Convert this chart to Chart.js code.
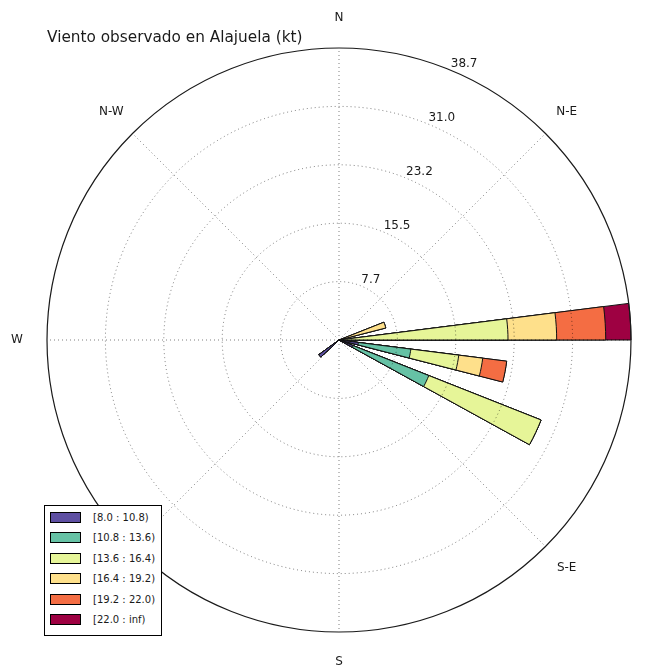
<!DOCTYPE html>
<html>
<head>
<meta charset="utf-8">
<script src="https://cdn.jsdelivr.net/npm/chart.js@4.4.1/dist/chart.umd.min.js"></script>
<style>
  html, body { margin: 0; padding: 0; background: #fff; }
  #wrap { position: relative; width: 657px; height: 667px; }
  #legend {
    position: absolute; left: 44px; top: 505px; width: 116px; height: 129px;
    border: 1px solid #000; background: #fff;
    font: 10px 'DejaVu Sans', sans-serif; color: #1a1a1a;
  }
  .sw { position: absolute; left: 5px; width: 29px; height: 9px; border: 1px solid #000; }
  .lb { position: absolute; left: 48px; height: 11px; line-height: 11px; white-space: nowrap; }
</style>
</head>
<body>
<div id="wrap">
  <canvas id="rose" width="657" height="667"></canvas>
  <div id="legend"></div>
</div>
<script>
// Wind rose: 25 direction sectors of 14.4 degrees, bars stacked by speed class (kt)
const sectorCount = 25;
const directions = [72.0, 86.4, 100.8, 115.2, 230.4];   // sector centres, degrees clockwise from north
const speedBins = ['[8.0 : 10.8)', '[10.8 : 13.6)', '[13.6 : 16.4)', '[16.4 : 19.2)', '[19.2 : 22.0)', '[22.0 : inf)'];
const binColors = ['#5e4fa2', '#66c2a5', '#e6f598', '#fee08b', '#f46d43', '#9e0142'];

// frequency of each speed class, one value per direction above
const speed8to10  = [0.0, 0.2,   2.6,  2.0, 3.3];
const speed10to13 = [0.0, 0.5,   7.0, 10.8, 0.0];
const speed13to16 = [0.0, 21.7,  6.4, 16.0, 0.0];
const speed16to19 = [6.4, 6.45,  3.2,  0.0, 0.0];
const speed19to22 = [0.0, 6.5,   3.2,  0.0, 0.0];
const speed22up   = [0.0, 3.35,  0.0,  0.0, 0.0];

const ringValues = [7.74, 15.48, 23.22, 30.96, 38.7];
const ringLabels = ['7.7', '15.5', '23.2', '31.0', '38.7'];
const compassLabels = ['N', 'N-E', 'E', 'S-E', 'S', 'S-W', 'W', 'N-W'];

const speedSeries = [speed8to10, speed10to13, speed13to16, speed16to19, speed19to22, speed22up];
const sectorWidth = 360 / sectorCount;

// Each sector becomes a bar slot followed by an empty slot of the same width,
// so bars open over half of their sector. Values are cumulative so that the
// wider (outer) classes sit underneath the inner ones.
const slotLabels = [];
const cumulative = speedBins.map(() => []);
for (let j = 0; j < sectorCount; j++) {
  const dir = j * sectorWidth;
  const k = directions.findIndex(d => Math.abs(d - dir) < 0.01);
  let run = 0;
  speedBins.forEach((_, b) => {
    if (k >= 0) run += speedSeries[b][k];
    cumulative[b].push(+run.toFixed(3));
    cumulative[b].push(0);
  });
  slotLabels.push(dir.toFixed(1) + '°', '');
}

const datasets = speedBins.map((name, b) => ({
  label: name,
  data: cumulative[b],
  backgroundColor: binColors[b],
  borderColor: '#111',
  borderWidth: c => (c.raw > 0 ? 1 : 0),
  order: b
}));

const outerIndex = ringValues.length;

const roseGuides = {
  id: 'roseGuides',
  afterDatasetsDraw(chart) {
    const s = chart.scales.r, ctx = chart.ctx;
    const R = s.getDistanceFromCenterForValue(s.max);
    ctx.save();
    ctx.strokeStyle = 'rgba(0,0,0,0.5)';
    ctx.lineWidth = 1;
    ctx.setLineDash([1, 3]);
    for (let k = 0; k < 8; k++) {
      const a = k * Math.PI / 4;
      ctx.beginPath();
      ctx.moveTo(s.xCenter, s.yCenter);
      ctx.lineTo(s.xCenter + R * Math.sin(a), s.yCenter - R * Math.cos(a));
      ctx.stroke();
    }
    ctx.restore();
  },
  afterDraw(chart) {
    const s = chart.scales.r, ctx = chart.ctx;
    const R = s.getDistanceFromCenterForValue(s.max);
    ctx.save();
    ctx.fillStyle = '#1a1a1a';
    ctx.font = '12px "DejaVu Sans", sans-serif';
    // compass names round the rim
    ctx.textAlign = 'center';
    ctx.textBaseline = 'middle';
    compassLabels.forEach((t, k) => {
      const a = k * Math.PI / 4;
      ctx.fillText(t, s.xCenter + (R + 30) * Math.sin(a), s.yCenter - (R + 30) * Math.cos(a));
    });
    // ring values along the 22.5 degree radial
    ctx.textAlign = 'left';
    ctx.textBaseline = 'bottom';
    const a = 22.5 * Math.PI / 180;
    ringValues.forEach((v, i) => {
      const r = s.getDistanceFromCenterForValue(v);
      ctx.fillText(ringLabels[i], s.xCenter + r * Math.sin(a), s.yCenter - r * Math.cos(a));
    });
    ctx.restore();
  }
};

new Chart(document.getElementById('rose'), {
  type: 'polarArea',
  data: { labels: slotLabels, datasets },
  plugins: [roseGuides],
  options: {
    responsive: false,
    animation: false,
    layout: { padding: { left: 47, right: 26, top: 0, bottom: 35 } },
    plugins: {
      legend: { display: false },
      tooltip: { enabled: false },
      title: {
        display: true,
        text: 'Viento observado en Alajuela (kt)',
        align: 'start',
        color: '#1a1a1a',
        font: { family: 'DejaVu Sans', size: 15.3, weight: 'normal', lineHeight: 1.2 },
        padding: { top: 28.5, bottom: 1.14 }
      }
    },
    scales: {
      r: {
        min: 0,
        max: 38.7,
        startAngle: -sectorWidth / 4,
        z: 1,
        afterBuildTicks: scale => { scale.ticks = [0, ...ringValues].map(v => ({ value: v })); },
        ticks: { display: false },
        pointLabels: { display: false },
        angleLines: { display: false },
        grid: {
          circular: true,
          z: 1,
          lineWidth: c => (c.index === outerIndex ? 1.2 : 1),
          color: c => (c.index === outerIndex ? '#1a1a1a' : 'rgba(0,0,0,0.5)')
        },
        border: { z: 1, dash: c => (c.index === outerIndex ? [] : [1, 3]) }
      }
    }
  }
});

// legend box, lower left
const legend = document.getElementById('legend');
speedBins.forEach((name, b) => {
  const top = 5.7 + b * 20.5;
  const sw = document.createElement('div');
  sw.className = 'sw';
  sw.style.top = top + 'px';
  sw.style.background = binColors[b];
  const lb = document.createElement('div');
  lb.className = 'lb';
  lb.style.top = top + 'px';
  lb.textContent = name;
  legend.appendChild(sw);
  legend.appendChild(lb);
});
</script>
</body>
</html>
